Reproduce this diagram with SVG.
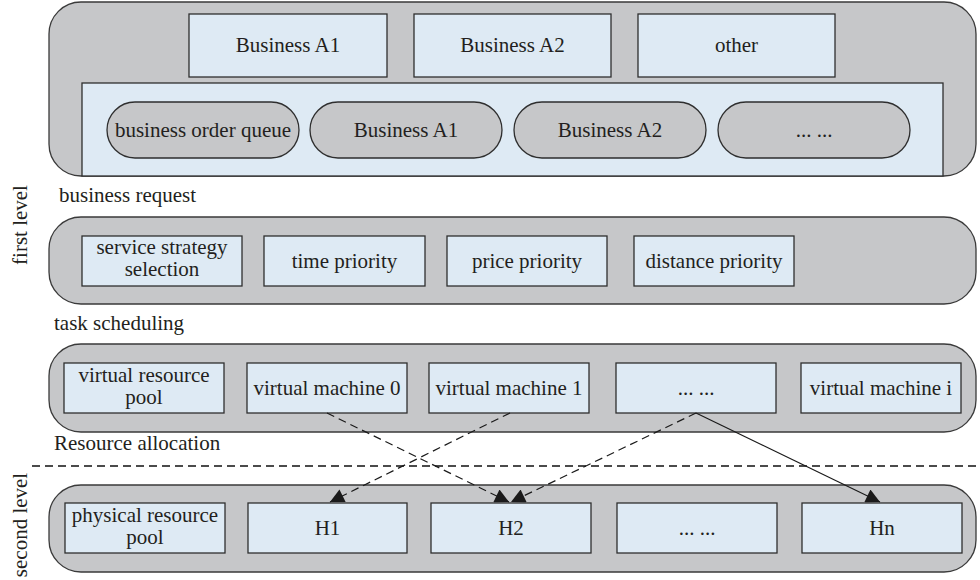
<svg xmlns="http://www.w3.org/2000/svg" width="980" height="580" viewBox="0 0 980 580">
  <style>
    .panel { fill: #c6c7c9; stroke: #3a3a3a; stroke-width: 1.3; }
    .box { fill: #deeaf4; stroke: #2e2e2e; stroke-width: 1.3; }
    .pill { fill: #c6c7c9; stroke: #2e2e2e; stroke-width: 1.3; }
    text { font-family: "Liberation Serif", "Times New Roman", serif; font-size: 21px; fill: #231f20; }
    .c { text-anchor: middle; }
    .dash { fill: none; stroke: #1a1a1a; stroke-width: 1.2; stroke-dasharray: 8 5; }
    .sep { fill: none; stroke: #111; stroke-width: 1.6; stroke-dasharray: 8 5; }
    .solid { fill: none; stroke: #1a1a1a; stroke-width: 1.2; }
  </style>
  <defs>
    <marker id="arrow" viewBox="0 0 10 10" refX="10" refY="5" markerWidth="20" markerHeight="14" markerUnits="userSpaceOnUse" orient="auto">
      <path d="M0,0 L10,5 L0,10 Z" fill="#1a1a1a"/>
    </marker>
  </defs>

  <!-- level labels -->
  <text class="c" transform="translate(27,225) rotate(-90)">first level</text>
  <text class="c" transform="translate(27,525) rotate(-90)">second level</text>

  <!-- business request layer -->
  <g id="business-layer">
    <rect class="panel" x="49" y="2" width="927" height="174" rx="32"/>
    <rect class="box" x="82" y="83" width="861" height="93"/>
  </g>
  <g id="biz-a1"><rect class="box" x="189" y="14" width="198" height="63"/><text class="c" x="288" y="52">Business A1</text></g>
  <g id="biz-a2"><rect class="box" x="414" y="14" width="197" height="63"/><text class="c" x="512.5" y="52">Business A2</text></g>
  <g id="biz-other"><rect class="box" x="638" y="14" width="197" height="63"/><text class="c" x="736.5" y="52">other</text></g>
  <g id="queue"><rect class="pill" x="107" y="102" width="192" height="56" rx="28"/><text class="c" x="203" y="137">business order queue</text></g>
  <g id="queue-a1"><rect class="pill" x="310" y="102" width="192" height="56" rx="28"/><text class="c" x="406" y="137">Business A1</text></g>
  <g id="queue-a2"><rect class="pill" x="514" y="102" width="192" height="56" rx="28"/><text class="c" x="610" y="137">Business A2</text></g>
  <g id="queue-more"><rect class="pill" x="718" y="102" width="192" height="56" rx="28"/><text class="c" x="814" y="137">... ...</text></g>
  <text x="59" y="202">business request</text>

  <!-- task scheduling layer -->
  <g id="strategy-layer"><rect class="panel" x="49" y="217" width="927" height="87" rx="32"/></g>
  <g id="strategy"><rect class="box" x="82" y="236" width="160" height="50"/><text class="c" x="162" y="254">service strategy</text><text class="c" x="162" y="276">selection</text></g>
  <g id="time"><rect class="box" x="264" y="236" width="161" height="50"/><text class="c" x="344.5" y="268">time priority</text></g>
  <g id="price"><rect class="box" x="447" y="236" width="160" height="50"/><text class="c" x="527" y="268">price priority</text></g>
  <g id="distance"><rect class="box" x="634" y="236" width="160" height="50"/><text class="c" x="714" y="268">distance priority</text></g>
  <text x="54" y="330">task scheduling</text>

  <!-- virtual resource layer -->
  <g id="virtual-layer"><rect class="panel" x="49" y="344" width="927" height="88" rx="32"/></g>
  <g id="vpool"><rect class="box" x="64" y="363" width="160" height="50"/><text class="c" x="144" y="382">virtual resource</text><text class="c" x="144" y="404">pool</text></g>
  <g id="vm0"><rect class="box" x="247" y="363" width="160" height="50"/><text class="c" x="327" y="395">virtual machine 0</text></g>
  <g id="vm1"><rect class="box" x="429" y="363" width="160" height="50"/><text class="c" x="509" y="395">virtual machine 1</text></g>
  <g id="vm-more"><rect class="box" x="616" y="363" width="160" height="50"/><text class="c" x="696" y="395">... ...</text></g>
  <g id="vmi"><rect class="box" x="801" y="363" width="160" height="50"/><text class="c" x="881" y="395">virtual machine i</text></g>
  <text x="54" y="450">Resource allocation</text>

  <!-- level separator -->
  <line class="sep" x1="32" y1="466" x2="980" y2="466"/>

  <!-- physical resource layer -->
  <g id="physical-layer"><rect class="panel" x="49" y="485" width="927" height="87" rx="32"/></g>
  <g id="ppool"><rect class="box" x="65" y="503" width="160" height="50"/><text class="c" x="145" y="522">physical resource</text><text class="c" x="145" y="544">pool</text></g>
  <g id="h1"><rect class="box" x="248" y="503" width="159" height="50"/><text class="c" x="327.5" y="535">H1</text></g>
  <g id="h2"><rect class="box" x="431" y="503" width="160" height="50"/><text class="c" x="511" y="535">H2</text></g>
  <g id="h-more"><rect class="box" x="617" y="503" width="160" height="50"/><text class="c" x="697" y="535">... ...</text></g>
  <g id="hn"><rect class="box" x="802" y="503" width="160" height="50"/><text class="c" x="882" y="535">Hn</text></g>

  <!-- allocation connectors -->
  <g id="connectors">
    <line class="dash" x1="327" y1="413" x2="509" y2="502" marker-end="url(#arrow)"/>
    <line class="dash" x1="510" y1="413" x2="330" y2="502" marker-end="url(#arrow)"/>
    <line class="dash" x1="696" y1="413" x2="511" y2="502" marker-end="url(#arrow)"/>
    <line class="solid" x1="696" y1="413" x2="880" y2="502" marker-end="url(#arrow)"/>
  </g>
</svg>
